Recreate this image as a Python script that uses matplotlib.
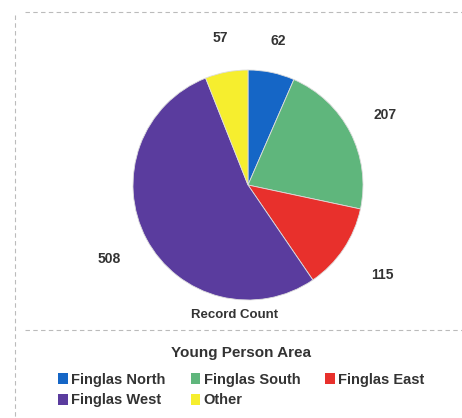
import numpy as np
import matplotlib
matplotlib.use("Agg")
import matplotlib.pyplot as plt
from matplotlib.lines import Line2D
from matplotlib.patches import Patch

# data
areas = ['Finglas North', 'Finglas South', 'Finglas East', 'Finglas West', 'Other']
counts = [62, 207, 115, 508, 57]
colours = ['#1566c6', '#5fb67c', '#e8302c', '#5a3c9e', '#f6ee2e']
label_dist = [1.28, 1.34, 1.41, 1.37, 1.3]

plt.rcParams['font.family'] = ['Liberation Sans', 'DejaVu Sans']

W, H = 462, 418
fig = plt.figure(figsize=(W / 100, H / 100), dpi=100)

# pie axes, centre ~ (248, 185) px from top, radius ~115 px
cx, cy, r = 248, 185, 115
ax = fig.add_axes([(cx - r) / W, (H - cy - r) / H, 2 * r / W, 2 * r / H])
wedges, _ = ax.pie(counts, colors=colours, startangle=90, counterclock=False,
                   radius=1, wedgeprops=dict(linewidth=0.6, edgecolor='#dddddd'))
ax.set_xlim(-1, 1)
ax.set_ylim(-1, 1)
ax.set_aspect('equal')
ax.axis('off')

for w, n, d in zip(wedges, counts, label_dist):
    mid = np.deg2rad((w.theta1 + w.theta2) / 2)
    ax.text(d * np.cos(mid), d * np.sin(mid), str(n), ha='center', va='center',
            fontsize=10, fontweight='bold', color='#333333', clip_on=False)

fig.text(235 / W, 1 - 315 / H, 'Record Count', ha='center', va='center',
         fontsize=9.5, fontweight='bold', color='#333333')

# faint dashed frame lines
for xs, ys in [((25, 462), (12, 12)), ((15, 15), (15, 418)), ((25, 462), (330, 330))]:
    fig.add_artist(Line2D([x / W for x in xs], [1 - y / H for y in ys],
                          color='#bbbbbb', lw=0.8, ls=(0, (4, 3))))

# legend fills column-wise, so reorder to read row-wise
order = [0, 3, 1, 4, 2]
handles = [Patch(facecolor=colours[i], edgecolor='none') for i in order]
labels = [areas[i] for i in order]
leg = fig.legend(handles, labels, ncol=3, loc='upper left',
                 bbox_to_anchor=(48 / W, 1 - 336 / H), frameon=False,
                 title='Young Person Area', handlelength=0.65, handleheight=0.75,
                 handletextpad=0.25, columnspacing=1.7, labelspacing=0.45,
                 borderpad=0.2, prop=dict(size=10.5, weight='bold'))
leg.get_title().set_fontweight('bold')
leg.get_title().set_fontsize(11)
leg.get_title().set_color('#333333')
leg._legend_box.sep = 9
for t in leg.get_texts():
    t.set_color('#333333')

fig.savefig('out.png', dpi=100)
